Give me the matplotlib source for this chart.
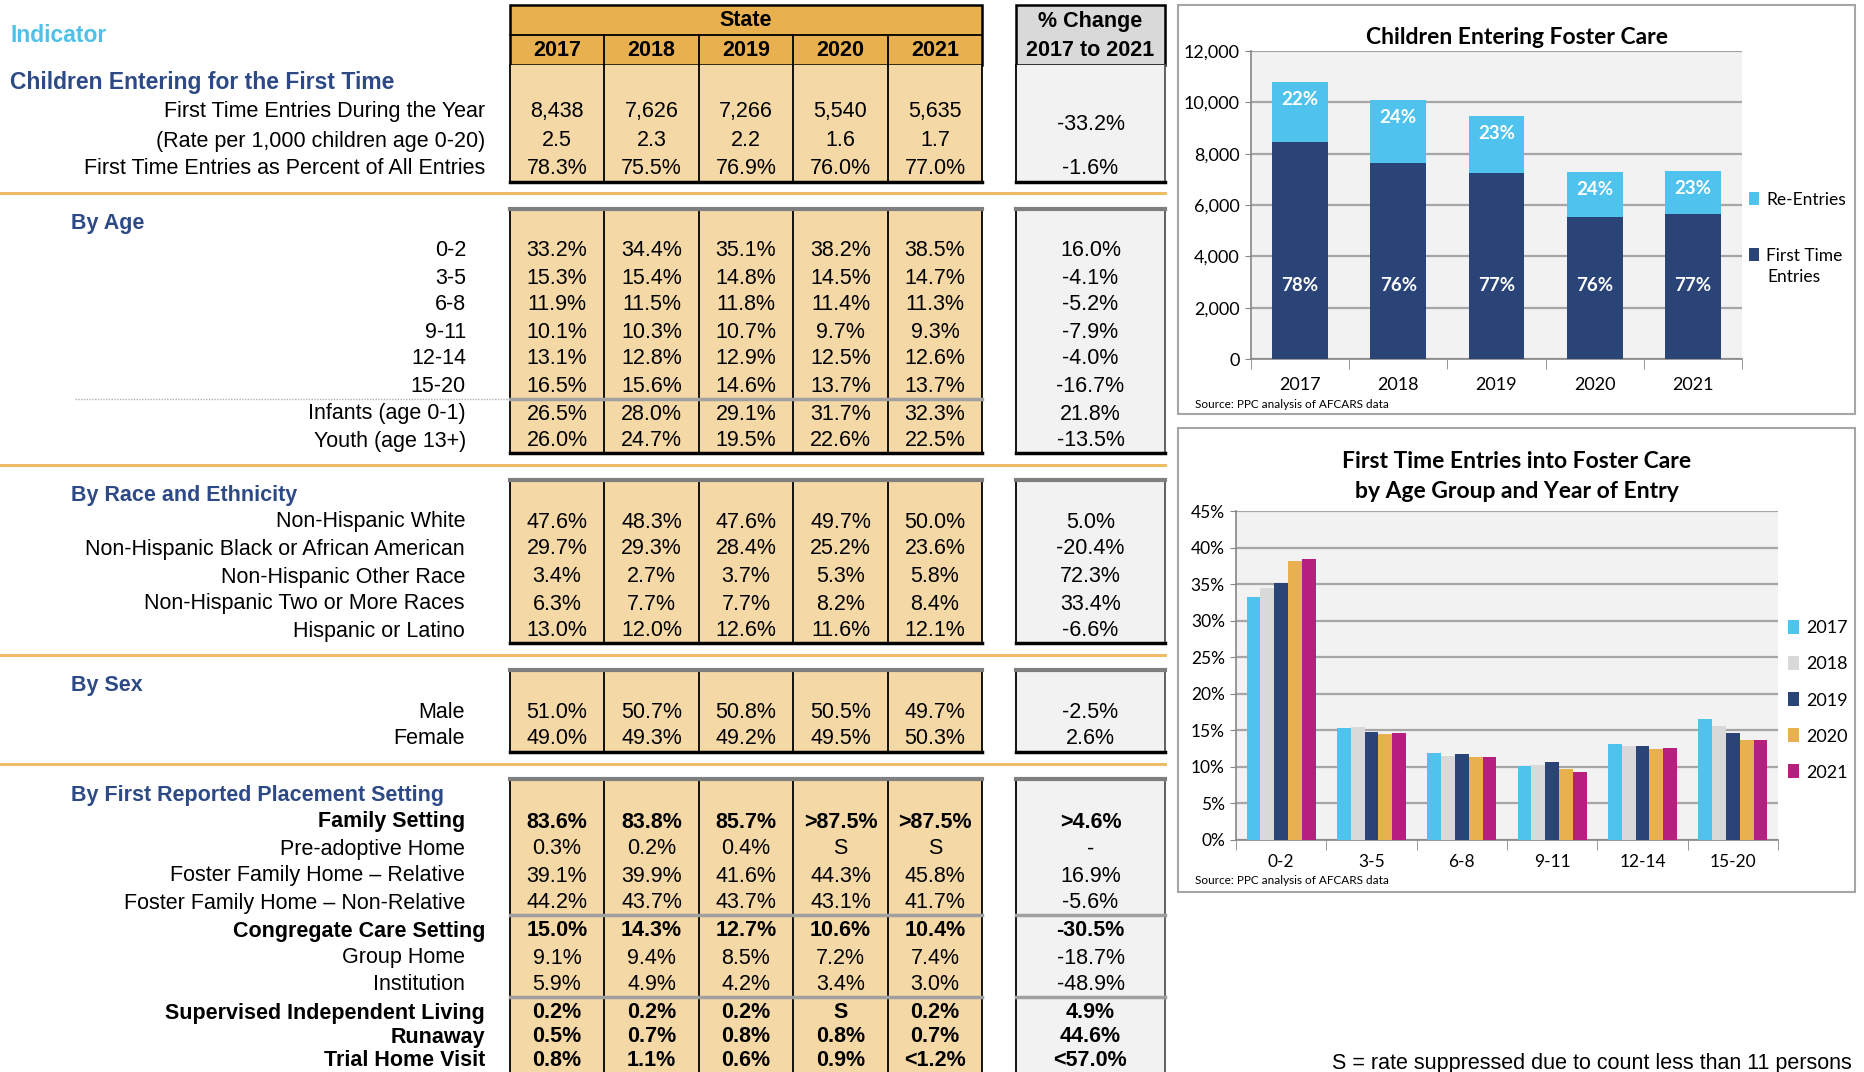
import matplotlib
matplotlib.use("Agg")
import matplotlib.pyplot as plt
from matplotlib.patches import Rectangle
import numpy as np

plt.rcParams['font.family'] = ['Liberation Sans', 'DejaVu Sans']

# ---------------- data ----------------
years = ["2017", "2018", "2019", "2020", "2021"]

ft_labels = ["First Time Entries During the Year",
             "(Rate per 1,000 children age 0-20)",
             "First Time Entries as Percent of All Entries"]
ft_values = [["8,438", "7,626", "7,266", "5,540", "5,635"],
             ["2.5", "2.3", "2.2", "1.6", "1.7"],
             ["78.3%", "75.5%", "76.9%", "76.0%", "77.0%"]]
ft_change = ["-33.2%", "-1.6%"]

age_groups = ["0-2", "3-5", "6-8", "9-11", "12-14", "15-20"]
age_pct = [[33.2, 34.4, 35.1, 38.2, 38.5],
           [15.3, 15.4, 14.8, 14.5, 14.7],
           [11.9, 11.5, 11.8, 11.4, 11.3],
           [10.1, 10.3, 10.7, 9.7, 9.3],
           [13.1, 12.8, 12.9, 12.5, 12.6],
           [16.5, 15.6, 14.6, 13.7, 13.7]]
age_change = ["16.0%", "-4.1%", "-5.2%", "-7.9%", "-4.0%", "-16.7%"]
age_extra_labels = ["Infants (age 0-1)", "Youth (age 13+)"]
age_extra = [[26.5, 28.0, 29.1, 31.7, 32.3],
             [26.0, 24.7, 19.5, 22.6, 22.5]]
age_extra_change = ["21.8%", "-13.5%"]

race_labels = ["Non-Hispanic White", "Non-Hispanic Black or African American",
               "Non-Hispanic Other Race", "Non-Hispanic Two or More Races",
               "Hispanic or Latino"]
race_pct = [[47.6, 48.3, 47.6, 49.7, 50.0],
            [29.7, 29.3, 28.4, 25.2, 23.6],
            [3.4, 2.7, 3.7, 5.3, 5.8],
            [6.3, 7.7, 7.7, 8.2, 8.4],
            [13.0, 12.0, 12.6, 11.6, 12.1]]
race_change = ["5.0%", "-20.4%", "72.3%", "33.4%", "-6.6%"]

sex_labels = ["Male", "Female"]
sex_pct = [[51.0, 50.7, 50.8, 50.5, 49.7],
           [49.0, 49.3, 49.2, 49.5, 50.3]]
sex_change = ["-2.5%", "2.6%"]

place_labels = ["Family Setting", "Pre-adoptive Home", "Foster Family Home \u2013 Relative",
                "Foster Family Home \u2013 Non-Relative", "Congregate Care Setting",
                "Group Home", "Institution", "Supervised Independent Living",
                "Runaway", "Trial Home Visit"]
place_values = [["83.6%", "83.8%", "85.7%", ">87.5%", ">87.5%"],
                ["0.3%", "0.2%", "0.4%", "S", "S"],
                ["39.1%", "39.9%", "41.6%", "44.3%", "45.8%"],
                ["44.2%", "43.7%", "43.7%", "43.1%", "41.7%"],
                ["15.0%", "14.3%", "12.7%", "10.6%", "10.4%"],
                ["9.1%", "9.4%", "8.5%", "7.2%", "7.4%"],
                ["5.9%", "4.9%", "4.2%", "3.4%", "3.0%"],
                ["0.2%", "0.2%", "0.2%", "S", "0.2%"],
                ["0.5%", "0.7%", "0.8%", "0.8%", "0.7%"],
                ["0.8%", "1.1%", "0.6%", "0.9%", "<1.2%"]]
place_change = [">4.6%", "-", "16.9%", "-5.6%", "-30.5%", "-18.7%", "-48.9%",
                "4.9%", "44.6%", "<57.0%"]
place_bold = [True, False, False, False, True, False, False, True, True, True]

# chart 1: entries by year
first_entries = [8438, 7626, 7266, 5540, 5635]
re_entries = [2338, 2475, 2183, 1749, 1683]
first_share = ["78%", "76%", "77%", "76%", "77%"]
re_share = ["22%", "24%", "23%", "24%", "23%"]

# ---------------- styling ----------------
HDR_ORANGE = "#E9B04F"
BODY_TAN = "#F4D8A6"
CHG_HDR = "#D9D9D9"
CHG_BODY = "#F2F2F2"
NAVY_TXT = "#2E4A86"
INDICATOR = "#4FC1E9"
SEP_ORANGE = "#F1BC68"
NAVY = "#2A4478"
LBLUE = "#4FC3EE"
LGRAY = "#D9D9D9"
GOLD = "#E9B04F"
MAGENTA = "#B51F7E"
GRID = "#A6A6A6"

W, H = 1864, 1072
fig = plt.figure(figsize=(W / 100, H / 100), dpi=100)
bg = fig.add_axes([0, 0, 1, 1])
bg.set_xlim(0, W)
bg.set_ylim(H, 0)
bg.axis("off")

col_edges = [510, 604, 699, 793, 888, 982]
col_mid = [(a + b) / 2 for a, b in zip(col_edges[:-1], col_edges[1:])]
chg_l, chg_r = 1016, 1165
chg_mid = (chg_l + chg_r) / 2
FS = 15.5


def txt(x, y, s, ha="center", bold=False, color="black", size=FS):
    bg.text(x, y, s, ha=ha, va="center", fontsize=size, color=color,
            fontweight="bold" if bold else "normal")


def body(top, bottom, state_lines=(), chg_lines=(), top_gray=True):
    bg.add_patch(Rectangle((col_edges[0], top), col_edges[-1] - col_edges[0],
                           bottom - top, fc=BODY_TAN, ec="none"))
    bg.add_patch(Rectangle((chg_l, top), chg_r - chg_l, bottom - top,
                           fc=CHG_BODY, ec="none"))
    for x in col_edges:
        bg.plot([x, x], [top, bottom], color="black", lw=1.3)
    bg.plot([chg_l, chg_l], [top, bottom], color="black", lw=1.3)
    bg.plot([chg_r, chg_r], [top, bottom], color="#555555", lw=1.3)
    if top_gray:
        bg.plot([col_edges[0], col_edges[-1]], [top, top], color="#7F7F7F", lw=3)
        bg.plot([chg_l, chg_r], [top, top], color="#7F7F7F", lw=3)
    bg.plot([col_edges[0], col_edges[-1]], [bottom, bottom], color="black", lw=2.5)
    bg.plot([chg_l, chg_r], [bottom, bottom], color="black", lw=2.5)
    for y in state_lines:
        bg.plot([col_edges[0], col_edges[-1]], [y, y], color="#A0A0A0", lw=2.5)
    for y in chg_lines:
        bg.plot([chg_l, chg_r], [y, y], color="#A0A0A0", lw=2.5)


def row(y, label, vals, change, bold=False, lx=465):
    txt(lx, y, label, ha="right", bold=bold)
    for xm, v in zip(col_mid, vals):
        txt(xm, y, v, bold=bold)
    if change is not None:
        txt(chg_mid, y, change, bold=bold)


def sep(y):
    bg.plot([0, chg_r], [y, y], color=SEP_ORANGE, lw=2.2)


def fmt(v):
    return f"{v:.1f}%"


# ---------------- header ----------------
bg.add_patch(Rectangle((col_edges[0], 5), col_edges[-1] - col_edges[0], 60,
                       fc=HDR_ORANGE, ec="black", lw=1.8))
bg.plot([col_edges[0], col_edges[-1]], [35, 35], color="black", lw=1.3)
for x in col_edges[1:-1]:
    bg.plot([x, x], [35, 65], color="black", lw=1.3)
txt((col_edges[0] + col_edges[-1]) / 2, 21, "State", bold=True)
for xm, yr in zip(col_mid, years):
    txt(xm, 51, yr, bold=True)
bg.add_patch(Rectangle((chg_l, 5), chg_r - chg_l, 60, fc=CHG_HDR, ec="black", lw=1.8))
txt(chg_mid, 22, "% Change", bold=True)
txt(chg_mid, 51, "2017 to 2021", bold=True)
txt(10, 36, "Indicator", ha="left", bold=True, color=INDICATOR, size=16.5)

# ---------------- section 1 ----------------
body(65, 182, top_gray=False)
txt(10, 82, "Children Entering for the First Time", ha="left", bold=True,
    color=NAVY_TXT, size=16.5)
ft_y = [111, 141, 169]
for y, lab, vals in zip(ft_y, ft_labels, ft_values):
    row(y, lab, vals, None, lx=485)
txt(chg_mid, 125, ft_change[0])
txt(chg_mid, 169, ft_change[1])
sep(193)

# ---------------- by age ----------------
body(209, 453, state_lines=[399])
bg.plot([75, col_edges[0]], [399, 399], color="#B0B0B0", lw=1, ls=(0, (1, 1)))
txt(71, 224, "By Age", ha="left", bold=True, color=NAVY_TXT, size=15.5)
age_y = [251, 278, 305, 332, 359, 387]
for y, lab, vals, ch in zip(age_y, age_groups, age_pct, age_change):
    row(y, lab, [fmt(v) for v in vals], ch, lx=466)
for y, lab, vals, ch in zip([414, 441], age_extra_labels, age_extra, age_extra_change):
    row(y, lab, [fmt(v) for v in vals], ch, lx=466)
sep(465)

# ---------------- race ----------------
body(480, 643)
txt(71, 496, "By Race and Ethnicity", ha="left", bold=True, color=NAVY_TXT, size=15.5)
race_y = [522, 549, 577, 604, 631]
for y, lab, vals, ch in zip(race_y, race_labels, race_pct, race_change):
    row(y, lab, [fmt(v) for v in vals], ch)
sep(655)

# ---------------- sex ----------------
body(670, 752)
txt(71, 686, "By Sex", ha="left", bold=True, color=NAVY_TXT, size=15.5)
for y, lab, vals, ch in zip([713, 739], sex_labels, sex_pct, sex_change):
    row(y, lab, [fmt(v) for v in vals], ch)
sep(764)

# ---------------- placement ----------------
body(779, 1090, state_lines=[915, 997], chg_lines=[915, 997])
txt(71, 795, "By First Reported Placement Setting", ha="left", bold=True,
    color=NAVY_TXT, size=15.5)
place_y = [822, 849, 876, 903, 931, 958, 984, 1013, 1037, 1061]
for i, (y, lab, vals, ch, b) in enumerate(zip(place_y, place_labels, place_values,
                                             place_change, place_bold)):
    row(y, lab, vals, ch, bold=b, lx=465 if i in (0, 1, 2, 3, 5, 6) else 485)

txt(1852, 1063, "S = rate suppressed due to count less than 11 persons", ha="right")

# ---------------- chart frames ----------------
bg.add_patch(Rectangle((1178, 5), 677, 409, fc="white", ec="#A6A6A6", lw=1.5))
bg.add_patch(Rectangle((1178, 428), 677, 464, fc="white", ec="#A6A6A6", lw=1.5))

CF = ["Lato", "DejaVu Sans"]


def fig_rect(x0, y0, x1, y1):
    return [x0 / W, 1 - y1 / H, (x1 - x0) / W, (y1 - y0) / H]


def style_ax(ax, pad, size):
    ax.set_facecolor("#F2F2F2")
    ax.grid(axis="y", color=GRID, lw=1.6, zorder=0)
    ax.set_axisbelow(True)
    for s in ("top", "right"):
        ax.spines[s].set_visible(False)
    for s in ("left", "bottom"):
        ax.spines[s].set_color("#868686")
        ax.spines[s].set_linewidth(1.2)
    ax.tick_params(axis="x", which="major", length=0, pad=pad)
    ax.tick_params(axis="x", which="minor", length=7, color="#868686")
    ax.tick_params(axis="y", length=4, color="#868686", pad=4)
    for lab in ax.get_xticklabels() + ax.get_yticklabels():
        lab.set_family(CF)
        lab.set_fontsize(size)


# chart 1
ax1 = fig.add_axes(fig_rect(1251, 51, 1742, 359))
x = np.arange(len(years))
ax1.bar(x, first_entries, width=0.57, color=NAVY, zorder=3, label="First Time")
ax1.bar(x, re_entries, width=0.57, bottom=first_entries, color=LBLUE, zorder=3,
        label="Re-Entries")
ax1.set_xlim(-0.5, 4.5)
ax1.set_ylim(0, 12000)
ax1.set_yticks(range(0, 12001, 2000))
ax1.set_yticklabels([f"{v:,}" for v in range(0, 12001, 2000)])
ax1.set_xticks(x)
ax1.set_xticklabels(years)
ax1.set_xticks(np.arange(-0.5, 5, 1), minor=True)
style_ax(ax1, 13, 13)
for i in range(len(years)):
    ax1.text(i, 2850, first_share[i], ha="center", va="center", color="white",
             fontsize=13.5, fontweight="bold", family=CF)
    ax1.text(i, first_entries[i] + re_entries[i] - 680, re_share[i], ha="center",
             va="center", color="white", fontsize=13.5, fontweight="bold", family=CF)
h, l = ax1.get_legend_handles_labels()
ax1.legend(h[::-1], l[::-1], loc="upper left", bbox_to_anchor=(1733 / W, 1 - 176 / H),
           bbox_transform=fig.transFigure, frameon=False, handlelength=0.6,
           handleheight=0.8, handletextpad=0.4, labelspacing=2.3,
           prop={"family": CF, "size": 12.5})
bg.text(1767, 277, "Entries", ha="left", va="center", fontsize=12.5, family=CF)
bg.text(1517, 37, "Children Entering Foster Care", ha="center", va="center",
        fontsize=16.5, fontweight="bold", family=CF)
bg.text(1195, 404, "Source: PPC analysis of AFCARS data", ha="left", va="center",
        fontsize=8.5, family=CF)

# chart 2
ax2 = fig.add_axes(fig_rect(1236, 511, 1778, 840))
xa = np.arange(len(age_groups))
bw = 0.153
year_colors = [LBLUE, LGRAY, NAVY, GOLD, MAGENTA]
for j, yr in enumerate(years):
    vals = [age_pct[k][j] / 100 for k in range(len(age_groups))]
    ax2.bar(xa + (j - 2) * bw, vals, width=bw, color=year_colors[j], zorder=3, label=yr)
ax2.set_xlim(-0.5, 5.5)
ax2.set_ylim(0, 0.45)
ax2.set_yticks(np.arange(0, 0.451, 0.05))
ax2.set_yticklabels([f"{int(round(v * 100))}%" for v in np.arange(0, 0.451, 0.05)])
ax2.set_xticks(xa)
ax2.set_xticklabels(age_groups)
ax2.set_xticks(np.arange(-0.5, 6, 1), minor=True)
style_ax(ax2, 10, 12.5)
ax2.legend(loc="upper left", bbox_to_anchor=(1772 / W, 1 - 604 / H),
           bbox_transform=fig.transFigure, frameon=False, handlelength=0.6,
           handleheight=0.8, handletextpad=0.4, labelspacing=1.1,
           prop={"family": CF, "size": 13})
bg.text(1517, 461, "First Time Entries into Foster Care", ha="center", va="center",
        fontsize=16.5, fontweight="bold", family=CF)
bg.text(1517, 492, "by Age Group and Year of Entry", ha="center", va="center",
        fontsize=16.5, fontweight="bold", family=CF)
bg.text(1195, 881, "Source: PPC analysis of AFCARS data", ha="left", va="center",
        fontsize=8.5, family=CF)

fig.savefig("out.png", dpi=100)
